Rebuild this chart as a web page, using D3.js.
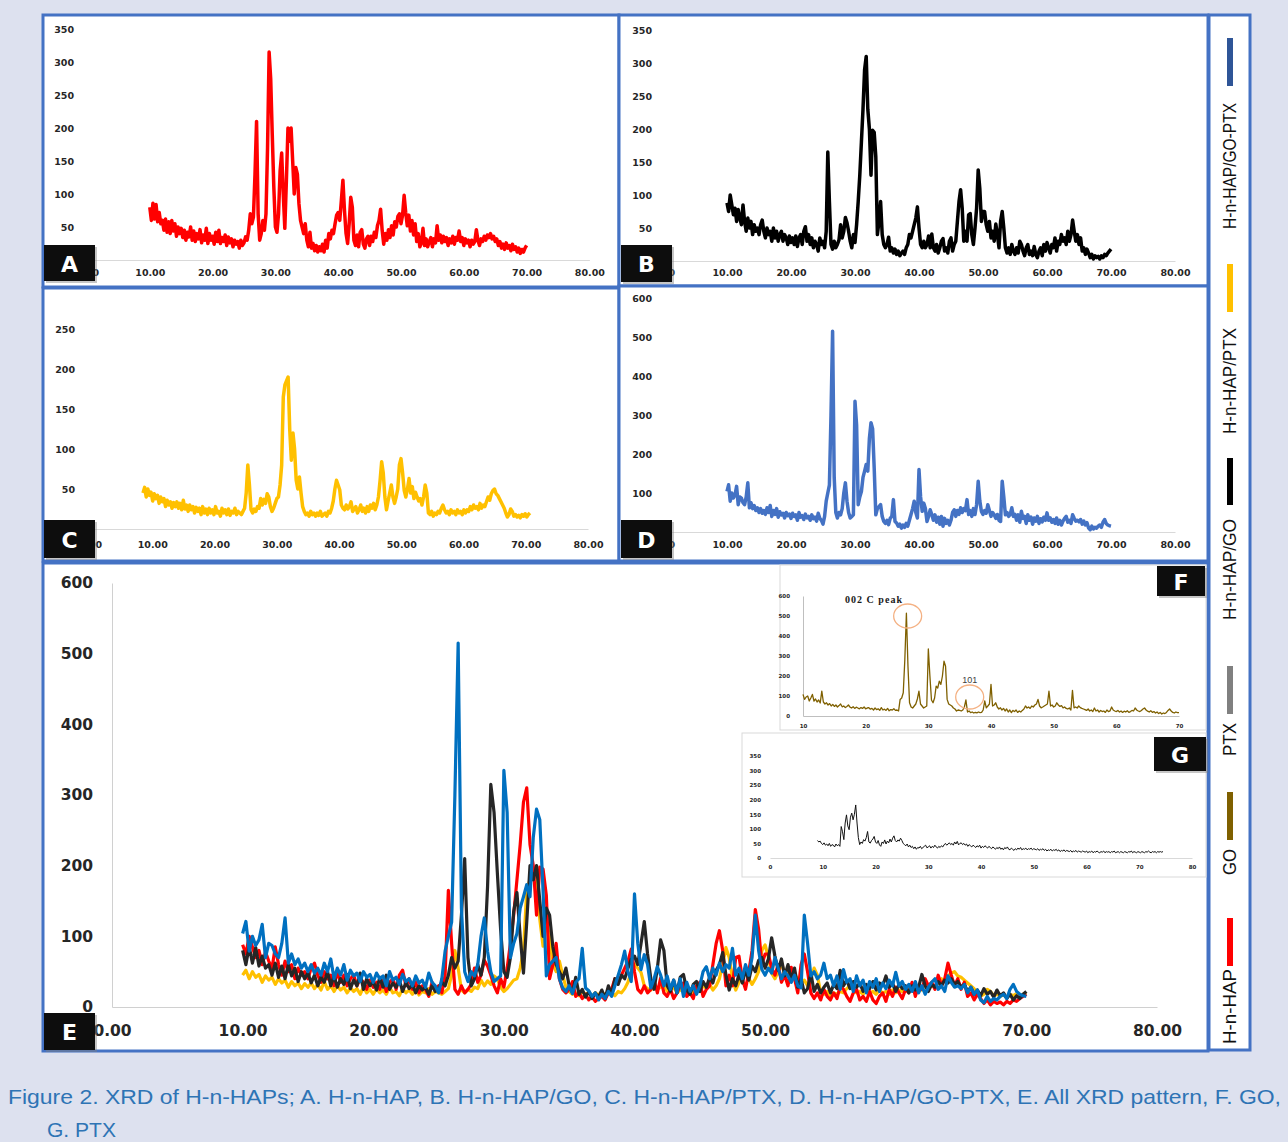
<!DOCTYPE html>
<html>
<head>
<meta charset="utf-8">
<script src="https://cdn.jsdelivr.net/npm/d3@7"></script>
<style>
  body { margin: 0; background: #dde1ef; }
  svg { display: block; }
</style>
</head>
<body>
<svg id="fig" width="1288" height="1142"></svg>
<script>
// scans at 0.25 deg steps (2-theta)
const scanStep = 0.25
const hapScanStart = 10
const ptxScanStart = 9

// A. H-n-HAP (10..70)
const hapValues = [
  80,60,86,62,84,58,72,55,60,45,62,42,58,40,60,44,55,36,50,40,
  48,34,45,30,42,35,50,30,44,28,40,32,46,26,38,30,48,25,40,30,
  36,24,42,28,45,25,34,28,38,22,35,26,32,20,30,24,28,18,30,22,
  26,35,30,45,70,55,65,130,210,70,30,40,60,45,70,170,315,275,190,110,
  50,42,70,135,162,100,48,120,200,180,200,150,100,140,130,85,60,50,40,55,
  30,20,42,18,25,14,22,12,20,14,24,12,30,18,40,32,45,40,55,68,
  72,60,90,121,75,40,25,55,95,80,30,22,38,20,42,46,24,18,32,36,
  22,36,28,42,34,52,60,77,45,24,40,30,46,34,52,38,58,50,66,70,
  55,68,98,72,52,68,44,60,38,55,28,40,20,26,48,22,32,20,28,34,
  20,32,26,52,30,38,26,36,28,34,22,32,26,36,24,34,30,44,28,34,
  22,32,26,30,20,30,24,28,46,30,22,32,28,36,30,38,34,40,32,36,
  28,32,22,28,18,24,16,26,18,22,14,24,16,20,12,18,10,16,12,18,
  22
]
// B. H-n-HAP/GO
const hapGoValues = [
  88,75,100,85,70,80,60,78,65,55,85,60,45,65,50,60,40,55,45,50,
  40,55,62,45,35,50,40,45,30,50,35,45,30,40,45,30,40,35,25,38,
  28,35,25,38,22,35,40,25,45,52,30,40,25,35,20,30,25,15,35,25,
  30,20,45,165,90,25,18,30,20,25,32,55,35,45,66,58,45,30,20,40,
  28,55,90,130,180,230,290,310,230,200,130,198,195,158,40,60,90,40,25,20,
  25,36,15,20,12,18,10,15,8,12,15,10,20,25,40,35,45,55,65,82,
  50,25,20,30,20,25,38,20,41,20,15,25,12,20,30,34,15,20,12,30,
  35,15,25,30,60,90,108,80,30,45,30,70,72,40,25,50,80,138,110,60,
  75,75,55,45,60,35,45,30,56,40,20,60,75,50,20,12,20,10,25,15,
  10,20,12,30,25,15,8,20,25,10,15,8,22,10,5,15,20,8,25,15,
  28,20,12,25,20,35,15,30,25,40,30,35,25,45,30,40,62,45,30,40,
  25,35,15,20,10,18,12,5,10,3,8,5,7,3,8,5,10,8,12,15,
  18
]
// C. H-n-HAP/PTX
const hapPtxValues = [
  45,52,40,50,42,46,35,44,38,42,32,40,34,38,28,36,30,34,26,33,
  28,34,26,32,24,36,25,30,22,30,24,28,20,27,22,26,18,28,20,25,
  18,26,20,24,18,28,20,22,16,26,20,24,18,25,17,22,20,26,18,22,
  20,18,22,26,45,80,55,24,20,25,22,28,26,38,30,37,32,44,40,28,
  22,26,32,38,40,55,80,165,180,185,190,124,86,120,100,61,50,65,45,28,
  22,18,20,16,22,18,20,16,20,17,22,16,18,20,16,22,20,26,35,50,
  61,55,49,30,26,24,30,25,28,34,22,25,28,20,24,30,22,26,20,28,
  22,30,26,32,24,30,40,60,84,70,40,24,35,45,55,40,32,40,50,80,
  88,70,48,40,50,63,45,53,38,46,40,35,38,30,40,55,45,20,18,22,
  16,20,18,22,20,26,30,24,20,22,18,24,20,22,18,24,20,22,18,24,
  20,24,22,28,24,30,26,28,24,32,26,30,28,34,40,36,44,48,50,44,
  42,38,34,30,26,20,15,18,25,22,16,18,15,17,14,18,16,19,15,18,
  20
]
// D. H-n-HAP/GO-PTX
const hapGoPtxValues = [
  104,121,79,100,87,95,117,70,90,87,75,70,90,126,62,75,60,68,55,62,
  50,60,48,55,45,62,50,68,40,55,45,60,38,52,44,48,36,50,42,46,
  35,48,40,44,30,50,38,42,32,46,36,40,30,44,34,38,28,48,35,30,
  20,40,79,100,120,300,515,140,50,36,50,44,60,100,126,79,50,36,40,44,
  335,275,70,90,104,140,156,173,156,240,280,265,164,44,60,65,70,40,27,22,
  30,19,35,40,83,27,23,15,20,10,18,12,22,15,30,45,60,79,50,36,
  160,90,53,74,60,27,40,57,45,30,44,25,38,20,40,15,35,22,30,18,
  30,50,57,40,55,45,62,50,60,55,83,45,55,40,60,45,70,130,80,53,
  45,55,48,70,55,40,50,44,35,45,30,27,130,90,44,50,40,45,62,40,
  45,30,44,25,53,35,40,22,44,30,38,20,36,28,40,22,34,26,38,30,
  49,30,36,25,32,22,36,20,30,18,28,35,40,25,30,22,44,35,28,30,
  26,32,20,28,18,24,10,6,15,8,12,10,15,18,12,25,32,22,18,16,
  15
]
// F. GO
const goValues = [
  108,83,95,100,75,90,108,75,85,70,80,65,124,70,60,66,55,62,50,58,
  48,55,45,52,60,46,50,42,48,55,44,40,46,38,44,40,36,42,38,45,
  36,40,42,34,38,30,40,32,36,28,42,30,34,28,38,26,32,30,36,28,
  30,25,83,90,116,282,514,249,66,45,40,50,60,85,124,60,50,40,45,50,
  335,200,80,66,90,149,140,174,158,200,274,249,83,60,55,50,40,35,25,30,
  28,25,30,45,80,20,25,17,20,15,18,16,20,17,18,30,75,41,50,60,
  158,50,55,66,45,35,41,30,38,25,35,20,30,17,28,22,30,18,25,20,
  28,35,50,40,45,38,50,45,55,60,83,50,41,45,50,55,60,124,50,55,
  45,50,66,55,48,52,41,45,38,35,40,30,128,41,45,40,50,42,38,35,
  32,28,35,25,30,22,40,25,30,20,28,22,25,18,30,22,26,45,30,25,
  22,28,20,25,18,24,20,26,18,22,28,25,40,30,25,22,28,35,40,30,
  24,20,26,18,22,15,20,12,18,10,15,12,18,28,35,25,18,15,20,17,
  17
]
// G. PTX (9..74.5)
const ptxValues = [
  60,55,58,50,46,52,44,48,42,50,40,46,44,38,48,42,46,40,108,90,
  63,120,148,110,97,140,154,131,150,182,120,70,46,55,50,63,58,70,91,55,
  51,60,65,74,55,50,60,45,40,55,50,62,48,58,52,65,55,68,76,60,
  55,62,58,68,60,50,46,42,48,38,44,36,40,32,38,30,36,34,40,32,
  36,40,44,35,38,42,34,40,36,44,38,34,40,36,42,38,45,50,44,48,
  52,46,50,44,55,48,57,45,50,52,46,50,44,48,40,46,42,38,44,40,
  36,42,38,44,34,40,36,42,38,34,40,36,32,38,34,30,36,32,38,30,
  34,28,36,32,38,30,28,34,30,26,32,28,34,30,36,28,32,30,34,28,
  32,30,34,28,32,30,28,32,26,30,28,32,26,30,24,28,26,30,24,28,
  26,30,24,28,22,26,24,28,22,26,24,22,26,20,24,22,26,20,24,22,
  20,24,22,20,24,18,22,20,24,18,22,20,24,20,18,22,20,24,18,22,
  20,22,18,22,20,24,18,20,22,18,22,20,18,22,20,18,22,20,24,18,
  22,20,18,22,20,18,22,20,18,22,20,24,20,18,22,20,22,18,22,20,
  22,20,22
]

const angleTicks = [0, 10, 20, 30, 40, 50, 60, 70, 80]
const insetGoTicks = [10, 20, 30, 40, 50, 60, 70]
// the zero of panels A-D sits under the letter tags, so it is not listed
const counts350 = [50, 100, 150, 200, 250, 300, 350]
const counts250 = [50, 100, 150, 200, 250]
const counts600 = [100, 200, 300, 400, 500, 600]
const counts600Zero = [0, 100, 200, 300, 400, 500, 600]
const counts350Zero = [0, 50, 100, 150, 200, 250, 300, 350]

const legendNames = ['H-n-HAP', 'GO', 'PTX', 'H-n-HAP/GO', 'H-n-HAP/PTX', 'H-n-HAP/GO-PTX']
const captionLines = [
  'Figure 2. XRD of H-n-HAPs; A. H-n-HAP, B. H-n-HAP/GO, C. H-n-HAP/PTX, D. H-n-HAP/GO-PTX, E. All XRD pattern, F. GO,',
  'G. PTX'
]

const svg = d3.select('#fig')
const frameBlue = '#4472c4'
const narrow = '"Liberation Sans Narrow", "Arial Narrow", "Liberation Sans", sans-serif'

svg.append('rect').attr('width', 1288).attr('height', 1142).attr('fill', '#dde1ef')

// panel frames
const frames = [[43, 15, 576, 272], [619, 15, 589, 271], [43, 288, 576, 273], [619, 286, 589, 275], [43, 563, 1165, 488], [1209, 15, 41, 1035]]
frames.forEach(f => {
  svg.append('rect').attr('x', f[0]).attr('y', f[1]).attr('width', f[2]).attr('height', f[3])
    .attr('fill', '#fff').attr('stroke', frameBlue).attr('stroke-width', 3)
})

function drawXrd(cfg) {
  var g = svg.append('g')
  var x = d3.scaleLinear().domain(cfg.xDomain).range(cfg.xRange)
  var y = d3.scaleLinear().domain([0, cfg.yTop]).range(cfg.yRange)

  var xa = g.append('g').attr('transform', 'translate(0,' + y(0) + ')')
    .call(d3.axisBottom(x).tickValues(cfg.xTicks).tickSize(0).tickPadding(cfg.xPad).tickFormat(cfg.xFormat))
  xa.select('.domain').attr('stroke', cfg.axisColor)

  var ya = g.append('g').attr('transform', 'translate(' + cfg.yAxisX + ',0)')
    .call(d3.axisLeft(y).tickValues(cfg.yTicks).tickSize(0).tickPadding(cfg.yPad))
  if (cfg.yLine) ya.select('.domain').attr('stroke', cfg.axisColor)
  else ya.select('.domain').remove()

  g.selectAll('.tick text')
    .attr('font-family', '"DejaVu Sans", sans-serif')
    .attr('font-weight', 'bold')
    .attr('font-size', cfg.fontSize)
    .attr('fill', '#262626')

  // C is plotted a little off its labels in the original
  var lx = cfg.lineRange ? d3.scaleLinear().domain([10, 70]).range(cfg.lineRange) : x
  cfg.series.forEach(s => {
    var line = d3.line()
      .x((d, i) => lx(s.start + i * scanStep))
      .y(d => y(d))
    g.append('path').datum(s.values)
      .attr('d', line)
      .attr('fill', 'none')
      .attr('stroke', s.color)
      .attr('stroke-width', s.width)
      .attr('stroke-linejoin', 'round')
  })
  return { x: x, y: y }
}

const f2 = d3.format('.2f')

drawXrd({ xDomain: [0, 80], xRange: [87, 589.4], yTop: 350, yRange: [260, 29],
  xTicks: angleTicks, yTicks: counts350, xFormat: f2, xPad: 9.7, yAxisX: 74, yPad: 0,
  fontSize: 9.5, axisColor: '#d9d9d9',
  series: [{ values: hapValues, start: hapScanStart, color: '#ff0000', width: 3.5 }] })

drawXrd({ xDomain: [0, 80], xRange: [663, 1175], yTop: 350, yRange: [261, 30],
  xTicks: angleTicks, yTicks: counts350, xFormat: f2, xPad: 8.7, yAxisX: 652, yPad: 0,
  fontSize: 9.5, axisColor: '#d9d9d9',
  series: [{ values: hapGoValues, start: hapScanStart, color: '#000000', width: 3.5 }] })

drawXrd({ xDomain: [0, 80], xRange: [90, 588], lineRange: [143, 530], yTop: 250, yRange: [529, 329],
  xTicks: angleTicks, yTicks: counts250, xFormat: f2, xPad: 12.7, yAxisX: 75, yPad: 0,
  fontSize: 9.5, axisColor: '#d9d9d9',
  series: [{ values: hapPtxValues, start: hapScanStart, color: '#ffc000', width: 3.5 }] })

drawXrd({ xDomain: [0, 80], xRange: [663, 1175], yTop: 600, yRange: [532, 298],
  xTicks: angleTicks, yTicks: counts600, xFormat: f2, xPad: 9.7, yAxisX: 652, yPad: 0,
  fontSize: 9.5, axisColor: '#d9d9d9',
  series: [{ values: hapGoPtxValues, start: hapScanStart, color: '#4472c4', width: 3.5 }] })

// E: all patterns overlaid (colours as drawn in the original)
drawXrd({ xDomain: [0, 80], xRange: [112, 1157], yTop: 600, yRange: [1007, 583],
  xTicks: angleTicks, yTicks: counts600Zero, xFormat: f2, xPad: 17.7, yAxisX: 112, yPad: 19,
  fontSize: 15.5, axisColor: '#d0d0d0', yLine: true,
  series: [
    { values: hapPtxValues, start: hapScanStart, color: '#ffc000', width: 3.2 },
    { values: hapGoValues, start: hapScanStart, color: '#ff0000', width: 3.2 },
    { values: hapValues, start: hapScanStart, color: '#262626', width: 3.2 },
    { values: hapGoPtxValues, start: hapScanStart, color: '#0070c0', width: 3.2 }
  ] })

// insets F and G
svg.append('rect').attr('x', 780).attr('y', 565).attr('width', 426).attr('height', 165)
  .attr('fill', '#fff').attr('stroke', '#d9d9d9')
svg.append('rect').attr('x', 742).attr('y', 733).attr('width', 464).attr('height', 144)
  .attr('fill', '#fff').attr('stroke', '#d9d9d9')

const goPlot = drawXrd({ xDomain: [10, 70], xRange: [803, 1179], yTop: 600, yRange: [716, 596],
  xTicks: insetGoTicks, yTicks: counts600Zero, xFormat: d3.format('d'), xPad: 8, yAxisX: 803, yPad: 13,
  fontSize: 5.5, axisColor: '#bfbfbf', yLine: true,
  series: [{ values: goValues, start: hapScanStart, color: '#7f6000', width: 1.3 }] })

drawXrd({ xDomain: [0, 80], xRange: [770, 1192], yTop: 350, yRange: [858, 756],
  xTicks: angleTicks, yTicks: counts350Zero, xFormat: d3.format('d'), xPad: 7, yAxisX: 761, yPad: 0,
  fontSize: 5.5, axisColor: '#d9d9d9',
  series: [{ values: ptxValues, start: ptxScanStart, color: '#111111', width: 1 }] })

// GO peak notes
svg.append('text').attr('x', 845).attr('y', 603)
  .attr('font-family', '"Liberation Serif", serif').attr('font-weight', 'bold').attr('font-size', 10)
  .attr('textLength', 57).attr('fill', '#1a1a1a').text('002 C peak')
svg.append('ellipse').attr('cx', goPlot.x(26.7)).attr('cy', goPlot.y(500)).attr('rx', 14).attr('ry', 12)
  .attr('fill', 'none').attr('stroke', '#f4b183').attr('stroke-width', 1.3)
svg.append('ellipse').attr('cx', goPlot.x(36.6)).attr('cy', goPlot.y(95)).attr('rx', 14).attr('ry', 12)
  .attr('fill', 'none').attr('stroke', '#f4b183').attr('stroke-width', 1.3)
svg.append('text').attr('x', goPlot.x(36.6)).attr('y', goPlot.y(180)).attr('text-anchor', 'middle')
  .attr('dominant-baseline', 'central').attr('font-family', '"Liberation Sans", sans-serif')
  .attr('font-size', 9).attr('fill', '#404040').text('101')

// black letter tags
function tag(letter, x, y, w, h) {
  svg.append('rect').attr('x', x + 2).attr('y', y + 2).attr('width', w).attr('height', h)
    .attr('fill', '#808080').attr('opacity', 0.45)
  svg.append('rect').attr('x', x).attr('y', y).attr('width', w).attr('height', h).attr('fill', '#0d0d0d')
  svg.append('text').attr('x', x + w / 2).attr('y', y + h / 2 + 1)
    .attr('text-anchor', 'middle').attr('dominant-baseline', 'central')
    .attr('font-family', '"DejaVu Sans", sans-serif').attr('font-weight', 'bold').attr('font-size', 22)
    .attr('fill', '#fff').text(letter)
}
tag('A', 44, 245, 51, 36)
tag('B', 621, 245, 51, 37)
tag('C', 44, 520, 51, 38)
tag('D', 621, 520, 51, 38)
tag('E', 44, 1013, 51, 37)
tag('F', 1157, 566, 48, 30)
tag('G', 1154, 737, 52, 34)

// vertical legend, read bottom to top
const legendColors = { 'H-n-HAP': '#ff0000', 'GO': '#7f6000', 'PTX': '#808080',
  'H-n-HAP/GO': '#000000', 'H-n-HAP/PTX': '#ffc000', 'H-n-HAP/GO-PTX': '#2f5597' }
const legendSlots = [[1044, 75, 918, 966], [875, 26, 792, 840], [756, 33, 666, 714],
  [620, 101, 458, 505], [434, 106, 264, 312], [229, 126, 38, 86]]
legendNames.forEach((name, i) => {
  var s = legendSlots[i]
  svg.append('rect').attr('x', 1227).attr('y', s[2]).attr('width', 6).attr('height', s[3] - s[2])
    .attr('fill', legendColors[name])
  svg.append('text').attr('transform', 'translate(1230,' + s[0] + ') rotate(-90)')
    .attr('dominant-baseline', 'central').attr('font-family', narrow).attr('font-size', 18)
    .attr('textLength', s[1]).attr('lengthAdjust', 'spacingAndGlyphs')
    .attr('fill', '#111').text(name)
})

// caption
svg.append('text').attr('x', 8).attr('y', 1104).attr('font-family', narrow).attr('font-size', 21)
  .attr('textLength', 1273).attr('lengthAdjust', 'spacingAndGlyphs').attr('fill', '#2e74b5').text(captionLines[0])
svg.append('text').attr('x', 47).attr('y', 1137).attr('font-family', narrow).attr('font-size', 21)
  .attr('textLength', 69).attr('lengthAdjust', 'spacingAndGlyphs').attr('fill', '#2e74b5').text(captionLines[1])
</script>
</body>
</html>
